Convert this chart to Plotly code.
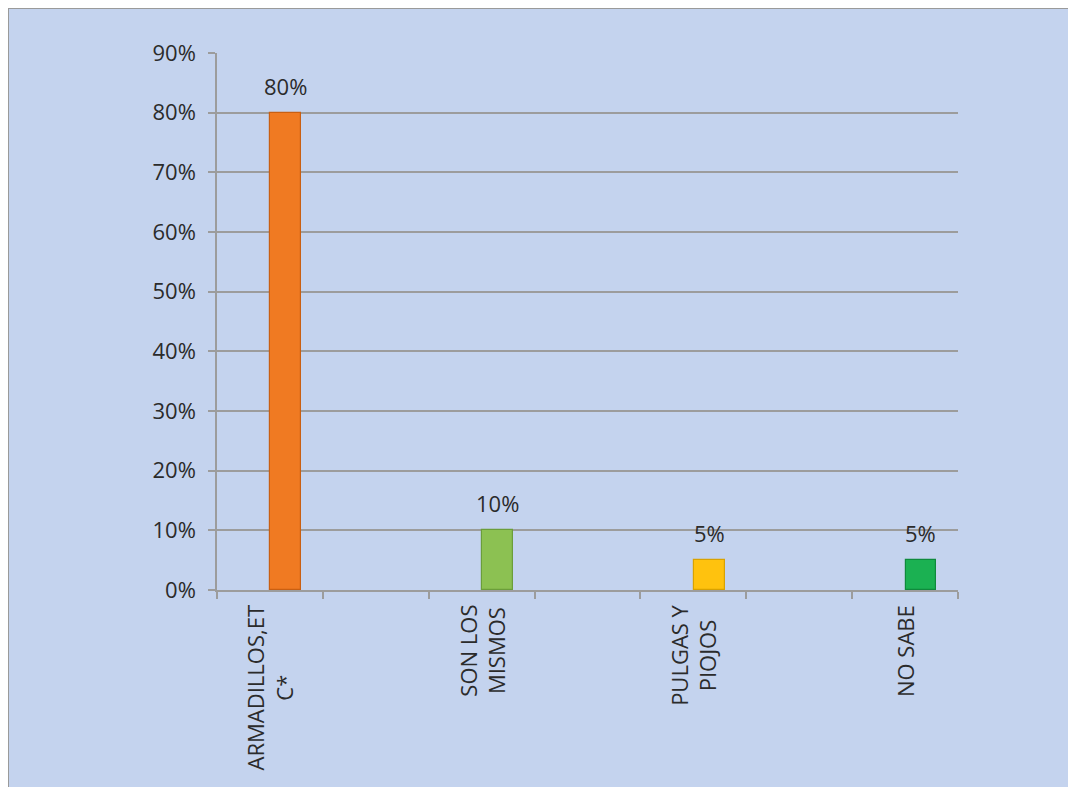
import plotly.graph_objects as go

# ---- data ----
categories = ["ARMADILLOS,ET<br>C*", " ", "SON LOS<br>MISMOS", "  ", "PULGAS Y<br>PIOJOS", "   ", "NO SABE"]
values = [0.80, None, 0.10, None, 0.05, None, 0.05]
value_labels = ["80%", "", "10%", "", "5%", "", "5%"]
bar_colors = ["#F07A22", "rgba(0,0,0,0)", "#8CC152", "rgba(0,0,0,0)", "#FFC20E", "rgba(0,0,0,0)", "#1BB152"]
bar_lines = ["#C95F12", "rgba(0,0,0,0)", "#6B9E3A", "rgba(0,0,0,0)", "#D9A200", "rgba(0,0,0,0)", "#0F8A3C"]
y_ticks = [0, 0.1, 0.2, 0.3, 0.4, 0.5, 0.6, 0.7, 0.8, 0.9]

FONT = "Open Sans"
TXT = "#2b2b2b"
GRID = "#9c9c9c"

fig = go.Figure()
fig.add_trace(go.Bar(
    x=categories,
    y=values,
    width=0.29,
    offset=0.005,
    marker=dict(color=bar_colors, line=dict(color=bar_lines, width=1.2)),
    hoverinfo="skip",
))

annotations = []
for i, (c, v, t) in enumerate(zip(categories, values, value_labels)):
    if v is None:
        continue
    annotations.append(dict(
        x=i + 0.15, y=v, xref="x", yref="y", text=t, showarrow=False,
        yanchor="middle", yshift=27,
        font=dict(family=FONT, size=22, color=TXT),
    ))
    annotations.append(dict(
        x=i, y=0, xref="x", yref="paper", text=c, showarrow=False,
        textangle=-90, align="center", xanchor="center", yanchor="top",
        yshift=-13,
        font=dict(family=FONT, size=22, color=TXT),
    ))

# outer frame line (top/left edge of the picture)
pw, ph = 741.0, 537.0
L, T = 209, 45
shapes = [dict(
    type="rect", xref="paper", yref="paper",
    x0=(0 - L) / pw, x1=(1100 - L) / pw,
    y0=-0.6, y1=(ph + T - 0) / ph,
    line=dict(color="#9a9a9a", width=2), fillcolor="rgba(0,0,0,0)", layer="below",
)]

fig.update_layout(
    width=1076, height=787,
    margin=dict(l=L, r=1076 - L - 741, t=T, b=787 - T - 537),
    paper_bgcolor="#C4D3EE",
    plot_bgcolor="rgba(0,0,0,0)",
    showlegend=False,
    annotations=annotations,
    shapes=shapes,
    font=dict(family=FONT, size=22, color=TXT),
    bargap=0,
)
fig.update_xaxes(
    type="category",
    tickson="boundaries",
    ticks="outside", ticklen=7, tickcolor=GRID, tickwidth=1.5,
    showticklabels=False,
    showgrid=False,
    showline=True, linecolor=GRID, linewidth=1.5,
    range=[-0.5, 6.5],
)
fig.update_yaxes(
    range=[0, 0.9],
    tickvals=y_ticks,
    tickformat=".0%",
    ticks="outside", ticklen=7, tickcolor=GRID, tickwidth=1.5,
    ticklabelstandoff=8,
    showgrid=True, gridcolor=GRID, gridwidth=1.5,
    showline=True, linecolor=GRID, linewidth=1.5,
    zeroline=False,
    tickfont=dict(family=FONT, size=22, color=TXT),
)

fig.write_html("out.html")
